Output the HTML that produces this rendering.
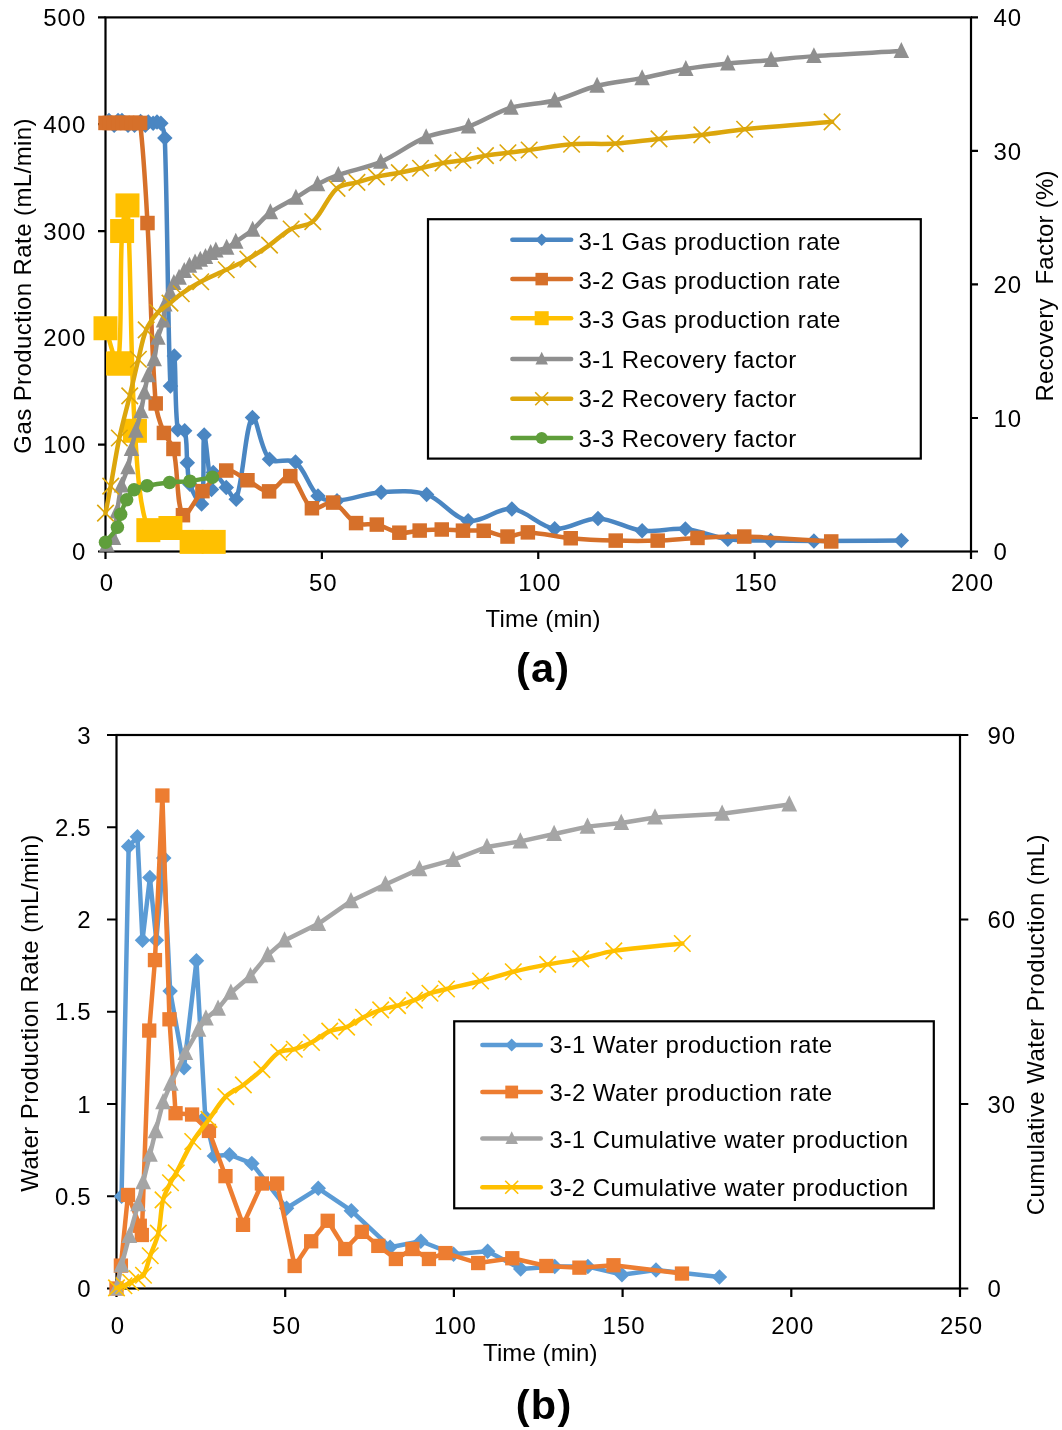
<!DOCTYPE html><html><head><meta charset="utf-8"><style>html,body{margin:0;padding:0;background:#fff;}svg{display:block;filter:blur(0.4px);}</style></head><body>
<svg width="1062" height="1430" viewBox="0 0 1062 1430" font-family="Liberation Sans, sans-serif" fill="#000">
<rect width="1062" height="1430" fill="#fff"/>
<g stroke="#000" stroke-width="2.2" fill="none">
<rect x="105.50" y="17.40" width="865.50" height="534.10"/>
<path d="M98.00,551.50H105.50M98.00,444.68H105.50M98.00,337.86H105.50M98.00,231.04H105.50M98.00,124.22H105.50M98.00,17.40H105.50M971.00,551.50H978.00M971.00,417.98H978.00M971.00,284.45H978.00M971.00,150.93H978.00M971.00,17.40H978.00M105.50,551.50V559.00M321.88,551.50V559.00M538.25,551.50V559.00M754.62,551.50V559.00M971.00,551.50V559.00"/>
</g>
<path d="M108.96,120.48 C110.69,122.08 112.54,125.29 114.16,125.29 C115.57,125.29 116.46,121.46 118.05,120.48 C119.05,119.86 120.83,119.94 121.94,120.48 C124.15,121.55 125.73,124.42 128.00,125.29 C129.91,126.02 132.50,125.88 134.49,125.29 C136.68,124.64 138.60,121.55 140.55,121.55 C142.21,121.55 143.81,125.19 145.31,125.29 C146.41,125.36 147.11,122.42 148.34,122.08 C149.71,121.71 151.52,123.15 153.10,123.15 C154.41,123.15 155.70,122.08 157.00,122.08 C158.30,122.08 160.35,122.05 160.89,123.15 C162.95,127.39 164.60,132.97 164.79,138.11 C167.77,220.55 167.58,321.18 170.41,385.93 C170.76,393.81 173.60,351.78 174.31,356.02 C176.05,366.38 174.61,406.96 177.77,429.73 C178.07,431.89 184.13,428.82 184.69,430.79 C187.30,439.86 186.25,452.18 187.29,462.84 C187.98,469.98 187.58,477.57 189.89,484.20 C192.34,491.28 200.38,508.06 201.57,503.97 C205.14,491.68 202.32,437.74 204.17,435.07 C205.64,432.93 209.22,480.05 211.52,489.54 C212.24,492.51 210.98,472.78 213.25,472.45 C215.88,472.07 221.94,482.40 226.24,487.41 C229.58,491.30 234.83,502.79 236.19,499.16 C243.55,479.51 245.21,426.19 252.42,417.55 C256.32,412.87 260.43,449.81 269.51,459.21 C274.78,464.66 289.16,457.30 295.48,462.09 C305.31,469.55 308.64,487.28 317.98,495.95 C322.49,500.14 330.62,501.03 337.02,500.65 C351.68,499.79 366.32,493.24 381.16,492.21 C396.18,491.18 412.67,489.87 426.60,494.46 C441.67,499.42 453.35,518.34 468.14,520.84 C481.77,523.15 497.72,507.61 511.85,508.88 C526.57,510.20 539.92,527.01 554.69,528.64 C568.62,530.18 583.62,518.04 597.97,518.39 C612.76,518.75 627.13,528.95 642.11,530.78 C656.26,532.51 671.15,527.67 685.38,529.07 C699.71,530.48 713.47,537.28 727.79,539.22 C741.88,541.12 756.35,540.30 770.64,540.60 C785.06,540.91 799.49,541.03 813.91,541.03 C843.05,541.03 872.19,540.75 901.33,540.60" fill="none" stroke="#4A86C2" stroke-width="4.50" stroke-linejoin="round" stroke-linecap="round"/><path d="M108.96,112.73L116.71,120.48L108.96,128.23L101.21,120.48Z" fill="#4A86C2"/><path d="M114.16,117.54L121.91,125.29L114.16,133.04L106.41,125.29Z" fill="#4A86C2"/><path d="M118.05,112.73L125.80,120.48L118.05,128.23L110.30,120.48Z" fill="#4A86C2"/><path d="M121.94,112.73L129.69,120.48L121.94,128.23L114.19,120.48Z" fill="#4A86C2"/><path d="M128.00,117.54L135.75,125.29L128.00,133.04L120.25,125.29Z" fill="#4A86C2"/><path d="M134.49,117.54L142.24,125.29L134.49,133.04L126.74,125.29Z" fill="#4A86C2"/><path d="M140.55,113.80L148.30,121.55L140.55,129.30L132.80,121.55Z" fill="#4A86C2"/><path d="M145.31,117.54L153.06,125.29L145.31,133.04L137.56,125.29Z" fill="#4A86C2"/><path d="M148.34,114.33L156.09,122.08L148.34,129.83L140.59,122.08Z" fill="#4A86C2"/><path d="M153.10,115.40L160.85,123.15L153.10,130.90L145.35,123.15Z" fill="#4A86C2"/><path d="M157.00,114.33L164.75,122.08L157.00,129.83L149.25,122.08Z" fill="#4A86C2"/><path d="M160.89,115.40L168.64,123.15L160.89,130.90L153.14,123.15Z" fill="#4A86C2"/><path d="M164.79,130.36L172.54,138.11L164.79,145.86L157.04,138.11Z" fill="#4A86C2"/><path d="M170.41,378.18L178.16,385.93L170.41,393.68L162.66,385.93Z" fill="#4A86C2"/><path d="M174.31,348.27L182.06,356.02L174.31,363.77L166.56,356.02Z" fill="#4A86C2"/><path d="M177.77,421.98L185.52,429.73L177.77,437.48L170.02,429.73Z" fill="#4A86C2"/><path d="M184.69,423.04L192.44,430.79L184.69,438.54L176.94,430.79Z" fill="#4A86C2"/><path d="M187.29,455.09L195.04,462.84L187.29,470.59L179.54,462.84Z" fill="#4A86C2"/><path d="M189.89,476.45L197.64,484.20L189.89,491.95L182.14,484.20Z" fill="#4A86C2"/><path d="M201.57,496.22L209.32,503.97L201.57,511.72L193.82,503.97Z" fill="#4A86C2"/><path d="M204.17,427.32L211.92,435.07L204.17,442.82L196.42,435.07Z" fill="#4A86C2"/><path d="M211.52,481.79L219.27,489.54L211.52,497.29L203.77,489.54Z" fill="#4A86C2"/><path d="M213.25,464.70L221.00,472.45L213.25,480.20L205.50,472.45Z" fill="#4A86C2"/><path d="M226.24,479.66L233.99,487.41L226.24,495.16L218.49,487.41Z" fill="#4A86C2"/><path d="M236.19,491.41L243.94,499.16L236.19,506.91L228.44,499.16Z" fill="#4A86C2"/><path d="M252.42,409.80L260.17,417.55L252.42,425.30L244.67,417.55Z" fill="#4A86C2"/><path d="M269.51,451.46L277.26,459.21L269.51,466.96L261.76,459.21Z" fill="#4A86C2"/><path d="M295.48,454.34L303.23,462.09L295.48,469.84L287.73,462.09Z" fill="#4A86C2"/><path d="M317.98,488.20L325.73,495.95L317.98,503.70L310.23,495.95Z" fill="#4A86C2"/><path d="M337.02,492.90L344.77,500.65L337.02,508.40L329.27,500.65Z" fill="#4A86C2"/><path d="M381.16,484.46L388.91,492.21L381.16,499.96L373.41,492.21Z" fill="#4A86C2"/><path d="M426.60,486.71L434.35,494.46L426.60,502.21L418.85,494.46Z" fill="#4A86C2"/><path d="M468.14,513.09L475.89,520.84L468.14,528.59L460.39,520.84Z" fill="#4A86C2"/><path d="M511.85,501.13L519.60,508.88L511.85,516.63L504.10,508.88Z" fill="#4A86C2"/><path d="M554.69,520.89L562.44,528.64L554.69,536.39L546.94,528.64Z" fill="#4A86C2"/><path d="M597.97,510.64L605.72,518.39L597.97,526.14L590.22,518.39Z" fill="#4A86C2"/><path d="M642.11,523.03L649.86,530.78L642.11,538.53L634.36,530.78Z" fill="#4A86C2"/><path d="M685.38,521.32L693.13,529.07L685.38,536.82L677.63,529.07Z" fill="#4A86C2"/><path d="M727.79,531.47L735.54,539.22L727.79,546.97L720.04,539.22Z" fill="#4A86C2"/><path d="M770.64,532.85L778.39,540.60L770.64,548.35L762.89,540.60Z" fill="#4A86C2"/><path d="M813.91,533.28L821.66,541.03L813.91,548.78L806.16,541.03Z" fill="#4A86C2"/><path d="M901.33,532.85L909.08,540.60L901.33,548.35L893.58,540.60Z" fill="#4A86C2"/>
<path d="M105.50,122.94 C106.94,122.94 108.39,122.94 109.83,122.94 C111.27,122.94 112.71,122.94 114.16,122.94 C115.60,122.94 117.04,122.94 118.48,122.94 C119.92,122.94 121.37,122.94 122.81,122.94 C124.25,122.94 125.70,122.94 127.14,122.94 C128.58,122.94 130.02,122.94 131.47,122.94 C132.91,122.94 134.35,122.94 135.79,122.94 C137.23,122.94 139.96,121.56 140.12,122.94 C143.85,154.92 145.62,189.63 147.48,223.03 C150.81,283.13 151.01,343.63 155.70,403.45 C156.49,413.59 160.25,423.50 163.92,432.93 C166.16,438.67 172.06,442.98 173.44,448.95 C178.41,470.39 176.35,505.56 182.96,515.18 C186.02,519.63 195.29,498.52 202.44,491.15 C209.71,483.64 217.62,472.62 226.24,470.53 C232.62,468.99 240.45,476.85 247.44,480.25 C254.73,483.79 262.20,492.03 269.08,491.36 C276.48,490.64 284.53,473.82 290.28,476.09 C298.81,479.44 302.81,502.60 311.92,508.24 C317.08,511.43 327.00,500.52 333.13,502.58 C341.71,505.46 347.37,518.71 356.06,523.09 C361.94,526.05 370.12,523.09 376.83,524.58 C384.55,526.29 391.64,531.62 399.34,532.70 C405.92,533.62 412.88,531.08 419.68,530.56 C427.02,530.01 434.39,529.48 441.75,529.50 C448.82,529.51 455.88,530.45 462.95,530.67 C469.87,530.88 476.91,529.88 483.72,530.78 C491.76,531.84 499.56,536.26 507.52,536.55 C514.27,536.79 521.03,532.19 527.86,532.38 C542.09,532.76 556.37,536.91 570.71,538.25 C585.65,539.65 600.70,540.20 615.71,540.60 C629.69,540.98 643.71,541.06 657.69,540.60 C670.97,540.17 684.22,538.56 697.50,537.93 C713.07,537.20 728.67,536.13 744.24,536.55 C773.24,537.31 802.23,539.82 831.22,541.46" fill="none" stroke="#D6702A" stroke-width="4.50" stroke-linejoin="round" stroke-linecap="round"/><rect x="98.25" y="115.69" width="14.50" height="14.50" fill="#D6702A"/><rect x="102.58" y="115.69" width="14.50" height="14.50" fill="#D6702A"/><rect x="106.91" y="115.69" width="14.50" height="14.50" fill="#D6702A"/><rect x="111.23" y="115.69" width="14.50" height="14.50" fill="#D6702A"/><rect x="115.56" y="115.69" width="14.50" height="14.50" fill="#D6702A"/><rect x="119.89" y="115.69" width="14.50" height="14.50" fill="#D6702A"/><rect x="124.22" y="115.69" width="14.50" height="14.50" fill="#D6702A"/><rect x="128.54" y="115.69" width="14.50" height="14.50" fill="#D6702A"/><rect x="132.87" y="115.69" width="14.50" height="14.50" fill="#D6702A"/><rect x="140.23" y="215.78" width="14.50" height="14.50" fill="#D6702A"/><rect x="148.45" y="396.20" width="14.50" height="14.50" fill="#D6702A"/><rect x="156.67" y="425.68" width="14.50" height="14.50" fill="#D6702A"/><rect x="166.19" y="441.70" width="14.50" height="14.50" fill="#D6702A"/><rect x="175.71" y="507.93" width="14.50" height="14.50" fill="#D6702A"/><rect x="195.19" y="483.90" width="14.50" height="14.50" fill="#D6702A"/><rect x="218.99" y="463.28" width="14.50" height="14.50" fill="#D6702A"/><rect x="240.19" y="473.00" width="14.50" height="14.50" fill="#D6702A"/><rect x="261.83" y="484.11" width="14.50" height="14.50" fill="#D6702A"/><rect x="283.03" y="468.84" width="14.50" height="14.50" fill="#D6702A"/><rect x="304.67" y="500.99" width="14.50" height="14.50" fill="#D6702A"/><rect x="325.88" y="495.33" width="14.50" height="14.50" fill="#D6702A"/><rect x="348.81" y="515.84" width="14.50" height="14.50" fill="#D6702A"/><rect x="369.58" y="517.33" width="14.50" height="14.50" fill="#D6702A"/><rect x="392.09" y="525.45" width="14.50" height="14.50" fill="#D6702A"/><rect x="412.43" y="523.31" width="14.50" height="14.50" fill="#D6702A"/><rect x="434.50" y="522.25" width="14.50" height="14.50" fill="#D6702A"/><rect x="455.70" y="523.42" width="14.50" height="14.50" fill="#D6702A"/><rect x="476.47" y="523.53" width="14.50" height="14.50" fill="#D6702A"/><rect x="500.27" y="529.30" width="14.50" height="14.50" fill="#D6702A"/><rect x="520.61" y="525.13" width="14.50" height="14.50" fill="#D6702A"/><rect x="563.46" y="531.00" width="14.50" height="14.50" fill="#D6702A"/><rect x="608.46" y="533.35" width="14.50" height="14.50" fill="#D6702A"/><rect x="650.44" y="533.35" width="14.50" height="14.50" fill="#D6702A"/><rect x="690.25" y="530.68" width="14.50" height="14.50" fill="#D6702A"/><rect x="736.99" y="529.30" width="14.50" height="14.50" fill="#D6702A"/><rect x="823.97" y="534.21" width="14.50" height="14.50" fill="#D6702A"/>
<path d="M105.50,328.25 C109.68,340.00 116.83,370.63 118.05,363.50 C122.37,338.23 119.49,275.04 122.12,231.04 C122.64,222.34 127.04,198.48 127.48,205.40 C131.31,265.05 130.11,355.87 134.93,430.79 C137.07,464.10 138.66,503.61 148.34,530.14 C150.48,536.00 163.68,526.17 170.41,528.00 C178.11,530.09 183.91,539.41 191.62,541.89 C198.33,544.04 206.33,541.89 213.69,541.89" fill="none" stroke="#FFC000" stroke-width="4.50" stroke-linejoin="round" stroke-linecap="round"/><rect x="93.50" y="316.25" width="24.00" height="24.00" fill="#FFC000"/><rect x="106.05" y="351.50" width="24.00" height="24.00" fill="#FFC000"/><rect x="110.12" y="219.04" width="24.00" height="24.00" fill="#FFC000"/><rect x="115.48" y="193.40" width="24.00" height="24.00" fill="#FFC000"/><rect x="122.93" y="418.79" width="24.00" height="24.00" fill="#FFC000"/><rect x="136.34" y="518.14" width="24.00" height="24.00" fill="#FFC000"/><rect x="158.41" y="516.00" width="24.00" height="24.00" fill="#FFC000"/><rect x="179.62" y="529.89" width="24.00" height="24.00" fill="#FFC000"/><rect x="201.69" y="529.89" width="24.00" height="24.00" fill="#FFC000"/><rect x="107.78" y="351.50" width="24.00" height="24.00" fill="#FFC000"/>
<path d="M106.80,544.82 C109.03,542.60 112.61,541.04 113.51,538.15 C116.07,529.91 115.83,520.32 117.18,511.44 C118.50,502.79 119.43,494.01 121.51,485.54 C123.04,479.32 126.32,473.56 128.00,467.38 C129.64,461.37 130.16,455.06 131.47,448.95 C132.76,442.87 134.27,436.83 135.79,430.79 C137.44,424.27 139.50,417.85 140.99,411.30 C142.39,405.12 143.22,398.82 144.45,392.61 C145.60,386.80 146.47,380.91 148.13,375.25 C149.72,369.78 152.75,364.72 154.18,359.22 C156.00,352.26 156.18,344.87 157.86,337.86 C159.28,331.96 162.26,326.42 163.49,320.50 C164.57,315.29 163.59,309.63 164.79,304.48 C165.76,300.28 168.27,296.48 169.98,292.46 C171.30,289.36 172.13,285.94 173.87,283.11 C175.16,281.04 177.45,279.65 179.07,277.77 C180.91,275.64 182.42,273.23 184.26,271.10 C185.88,269.22 187.53,267.30 189.45,265.76 C191.14,264.40 193.17,263.48 195.08,262.42 C196.78,261.47 198.54,260.64 200.27,259.75 C202.00,258.86 203.83,258.13 205.47,257.08 C207.30,255.90 208.83,254.25 210.66,253.07 C212.29,252.02 214.01,251.00 215.85,250.40 C219.35,249.26 223.33,249.32 226.67,247.86 C229.97,246.43 232.76,243.82 235.76,241.72 C241.42,237.76 247.39,234.16 252.63,229.70 C258.92,224.37 263.78,217.23 270.38,212.35 C278.21,206.55 287.47,202.67 295.91,197.66 C303.19,193.33 310.09,188.30 317.55,184.31 C324.23,180.73 331.18,177.50 338.32,174.96 C352.24,170.02 367.21,167.69 380.73,161.87 C396.49,155.10 410.30,143.56 426.17,137.17 C439.58,131.77 454.86,131.26 468.58,126.49 C483.13,121.43 496.30,112.10 510.99,107.66 C525.01,103.42 540.44,104.08 554.69,100.45 C569.14,96.78 582.66,89.45 597.10,85.76 C611.79,82.02 627.16,80.97 642.11,78.15 C656.73,75.40 671.16,71.56 685.82,69.07 C699.72,66.71 713.77,65.09 727.79,63.60 C742.18,62.07 756.65,61.25 771.07,59.99 C785.35,58.75 799.61,57.10 813.91,56.12 C843.02,54.12 872.19,52.74 901.33,51.05" fill="none" stroke="#8F8F8F" stroke-width="4.50" stroke-linejoin="round" stroke-linecap="round"/><path d="M106.80,535.83L114.55,551.80L99.05,551.80Z" fill="#8F8F8F"/><path d="M113.51,529.16L121.26,545.12L105.76,545.12Z" fill="#8F8F8F"/><path d="M117.18,502.45L124.93,518.42L109.43,518.42Z" fill="#8F8F8F"/><path d="M121.51,476.55L129.26,492.51L113.76,492.51Z" fill="#8F8F8F"/><path d="M128.00,458.39L135.75,474.35L120.25,474.35Z" fill="#8F8F8F"/><path d="M131.47,439.96L139.22,455.93L123.72,455.93Z" fill="#8F8F8F"/><path d="M135.79,421.80L143.54,437.77L128.04,437.77Z" fill="#8F8F8F"/><path d="M140.99,402.31L148.74,418.27L133.24,418.27Z" fill="#8F8F8F"/><path d="M144.45,383.62L152.20,399.58L136.70,399.58Z" fill="#8F8F8F"/><path d="M148.13,366.26L155.88,382.22L140.38,382.22Z" fill="#8F8F8F"/><path d="M154.18,350.23L161.93,366.20L146.43,366.20Z" fill="#8F8F8F"/><path d="M157.86,328.87L165.61,344.84L150.11,344.84Z" fill="#8F8F8F"/><path d="M163.49,311.51L171.24,327.48L155.74,327.48Z" fill="#8F8F8F"/><path d="M164.79,295.49L172.54,311.45L157.04,311.45Z" fill="#8F8F8F"/><path d="M169.98,283.47L177.73,299.44L162.23,299.44Z" fill="#8F8F8F"/><path d="M173.87,274.12L181.62,290.09L166.12,290.09Z" fill="#8F8F8F"/><path d="M179.07,268.78L186.82,284.75L171.32,284.75Z" fill="#8F8F8F"/><path d="M184.26,262.11L192.01,278.07L176.51,278.07Z" fill="#8F8F8F"/><path d="M189.45,256.77L197.20,272.73L181.70,272.73Z" fill="#8F8F8F"/><path d="M195.08,253.43L202.83,269.39L187.33,269.39Z" fill="#8F8F8F"/><path d="M200.27,250.76L208.02,266.72L192.52,266.72Z" fill="#8F8F8F"/><path d="M205.47,248.09L213.22,264.05L197.72,264.05Z" fill="#8F8F8F"/><path d="M210.66,244.08L218.41,260.05L202.91,260.05Z" fill="#8F8F8F"/><path d="M215.85,241.41L223.60,257.38L208.10,257.38Z" fill="#8F8F8F"/><path d="M226.67,238.87L234.42,254.84L218.92,254.84Z" fill="#8F8F8F"/><path d="M235.76,232.73L243.51,248.70L228.01,248.70Z" fill="#8F8F8F"/><path d="M252.63,220.71L260.38,236.68L244.88,236.68Z" fill="#8F8F8F"/><path d="M270.38,203.36L278.13,219.32L262.63,219.32Z" fill="#8F8F8F"/><path d="M295.91,188.67L303.66,204.63L288.16,204.63Z" fill="#8F8F8F"/><path d="M317.55,175.32L325.30,191.28L309.80,191.28Z" fill="#8F8F8F"/><path d="M338.32,165.97L346.07,181.93L330.57,181.93Z" fill="#8F8F8F"/><path d="M380.73,152.88L388.48,168.85L372.98,168.85Z" fill="#8F8F8F"/><path d="M426.17,128.18L433.92,144.15L418.42,144.15Z" fill="#8F8F8F"/><path d="M468.58,117.50L476.33,133.46L460.83,133.46Z" fill="#8F8F8F"/><path d="M510.99,98.67L518.74,114.64L503.24,114.64Z" fill="#8F8F8F"/><path d="M554.69,91.46L562.44,107.43L546.94,107.43Z" fill="#8F8F8F"/><path d="M597.10,76.77L604.85,92.74L589.35,92.74Z" fill="#8F8F8F"/><path d="M642.11,69.16L649.86,85.13L634.36,85.13Z" fill="#8F8F8F"/><path d="M685.82,60.08L693.57,76.05L678.07,76.05Z" fill="#8F8F8F"/><path d="M727.79,54.61L735.54,70.57L720.04,70.57Z" fill="#8F8F8F"/><path d="M771.07,51.00L778.82,66.97L763.32,66.97Z" fill="#8F8F8F"/><path d="M813.91,47.13L821.66,63.10L806.16,63.10Z" fill="#8F8F8F"/><path d="M901.33,42.06L909.08,58.02L893.58,58.02Z" fill="#8F8F8F"/>
<path d="M105.50,513.18 C107.23,504.14 109.03,495.12 110.69,486.07 C113.64,470.06 115.98,453.92 119.35,438.00 C122.33,423.88 126.34,409.98 129.73,395.94 C132.69,383.72 135.35,371.42 138.39,359.22 C140.83,349.40 142.33,339.07 146.18,329.85 C148.83,323.50 153.28,317.63 157.86,312.49 C161.21,308.73 166.00,306.33 169.98,303.14 C173.79,300.10 177.24,296.57 181.23,293.80 C187.48,289.45 193.99,285.37 200.70,281.78 C208.99,277.36 217.76,273.84 226.24,269.76 C233.48,266.27 240.90,263.06 247.87,259.08 C255.33,254.83 262.46,249.96 269.51,245.06 C276.88,239.94 283.35,233.25 291.15,229.04 C297.77,225.46 307.34,226.53 312.79,221.69 C322.63,212.96 327.23,197.02 337.02,188.31 C341.95,183.93 350.29,184.37 356.93,182.44 C363.41,180.55 369.83,178.34 376.40,176.83 C383.96,175.09 391.71,174.17 399.34,172.69 C406.42,171.32 413.50,169.85 420.54,168.28 C428.07,166.61 435.48,164.37 443.05,162.94 C449.61,161.70 456.36,161.41 462.95,160.27 C470.49,158.97 477.90,156.85 485.45,155.60 C492.90,154.36 500.46,153.76 507.96,152.79 C515.03,151.89 522.10,150.94 529.16,149.99 C543.30,148.09 557.37,145.31 571.57,144.25 C586.08,143.17 600.75,144.47 615.28,143.58 C629.89,142.69 644.41,140.37 658.99,138.91 C673.26,137.48 687.58,136.50 701.83,134.90 C716.14,133.30 730.35,130.73 744.67,129.29 C773.76,126.37 802.95,124.31 832.09,121.82" fill="none" stroke="#DCA60C" stroke-width="4.50" stroke-linejoin="round" stroke-linecap="round"/><path d="M97.25,504.93L113.75,521.43M97.25,521.43L113.75,504.93" stroke="#DCA60C" stroke-width="1.6" fill="none"/><path d="M102.44,477.82L118.94,494.32M102.44,494.32L118.94,477.82" stroke="#DCA60C" stroke-width="1.6" fill="none"/><path d="M111.10,429.75L127.60,446.25M111.10,446.25L127.60,429.75" stroke="#DCA60C" stroke-width="1.6" fill="none"/><path d="M121.48,387.69L137.98,404.19M121.48,404.19L137.98,387.69" stroke="#DCA60C" stroke-width="1.6" fill="none"/><path d="M130.14,350.97L146.64,367.47M130.14,367.47L146.64,350.97" stroke="#DCA60C" stroke-width="1.6" fill="none"/><path d="M137.93,321.60L154.43,338.10M137.93,338.10L154.43,321.60" stroke="#DCA60C" stroke-width="1.6" fill="none"/><path d="M149.61,304.24L166.11,320.74M149.61,320.74L166.11,304.24" stroke="#DCA60C" stroke-width="1.6" fill="none"/><path d="M161.73,294.89L178.23,311.39M161.73,311.39L178.23,294.89" stroke="#DCA60C" stroke-width="1.6" fill="none"/><path d="M172.98,285.55L189.48,302.05M172.98,302.05L189.48,285.55" stroke="#DCA60C" stroke-width="1.6" fill="none"/><path d="M192.45,273.53L208.95,290.03M192.45,290.03L208.95,273.53" stroke="#DCA60C" stroke-width="1.6" fill="none"/><path d="M217.99,261.51L234.49,278.01M217.99,278.01L234.49,261.51" stroke="#DCA60C" stroke-width="1.6" fill="none"/><path d="M239.62,250.83L256.12,267.33M239.62,267.33L256.12,250.83" stroke="#DCA60C" stroke-width="1.6" fill="none"/><path d="M261.26,236.81L277.76,253.31M261.26,253.31L277.76,236.81" stroke="#DCA60C" stroke-width="1.6" fill="none"/><path d="M282.90,220.79L299.40,237.29M282.90,237.29L299.40,220.79" stroke="#DCA60C" stroke-width="1.6" fill="none"/><path d="M304.54,213.44L321.04,229.94M304.54,229.94L321.04,213.44" stroke="#DCA60C" stroke-width="1.6" fill="none"/><path d="M328.77,180.06L345.27,196.56M328.77,196.56L345.27,180.06" stroke="#DCA60C" stroke-width="1.6" fill="none"/><path d="M348.68,174.19L365.18,190.69M348.68,190.69L365.18,174.19" stroke="#DCA60C" stroke-width="1.6" fill="none"/><path d="M368.15,168.58L384.65,185.08M368.15,185.08L384.65,168.58" stroke="#DCA60C" stroke-width="1.6" fill="none"/><path d="M391.09,164.44L407.59,180.94M391.09,180.94L407.59,164.44" stroke="#DCA60C" stroke-width="1.6" fill="none"/><path d="M412.29,160.03L428.79,176.53M412.29,176.53L428.79,160.03" stroke="#DCA60C" stroke-width="1.6" fill="none"/><path d="M434.80,154.69L451.30,171.19M434.80,171.19L451.30,154.69" stroke="#DCA60C" stroke-width="1.6" fill="none"/><path d="M454.70,152.02L471.20,168.52M454.70,168.52L471.20,152.02" stroke="#DCA60C" stroke-width="1.6" fill="none"/><path d="M477.20,147.35L493.70,163.85M477.20,163.85L493.70,147.35" stroke="#DCA60C" stroke-width="1.6" fill="none"/><path d="M499.71,144.54L516.21,161.04M499.71,161.04L516.21,144.54" stroke="#DCA60C" stroke-width="1.6" fill="none"/><path d="M520.91,141.74L537.41,158.24M520.91,158.24L537.41,141.74" stroke="#DCA60C" stroke-width="1.6" fill="none"/><path d="M563.32,136.00L579.82,152.50M563.32,152.50L579.82,136.00" stroke="#DCA60C" stroke-width="1.6" fill="none"/><path d="M607.03,135.33L623.53,151.83M607.03,151.83L623.53,135.33" stroke="#DCA60C" stroke-width="1.6" fill="none"/><path d="M650.74,130.66L667.24,147.16M650.74,147.16L667.24,130.66" stroke="#DCA60C" stroke-width="1.6" fill="none"/><path d="M693.58,126.65L710.08,143.15M693.58,143.15L710.08,126.65" stroke="#DCA60C" stroke-width="1.6" fill="none"/><path d="M736.42,121.04L752.92,137.54M736.42,137.54L752.92,121.04" stroke="#DCA60C" stroke-width="1.6" fill="none"/><path d="M823.84,113.57L840.34,130.07M823.84,130.07L840.34,113.57" stroke="#DCA60C" stroke-width="1.6" fill="none"/>
<path d="M105.50,542.15 C109.47,537.21 114.45,532.77 117.40,527.33 C119.50,523.47 119.22,518.49 120.65,514.25 C122.32,509.28 124.19,504.26 126.70,499.69 C128.67,496.12 130.84,492.01 134.06,489.81 C137.62,487.38 142.62,486.72 147.04,485.81 C154.45,484.27 162.02,483.29 169.55,482.47 C176.29,481.73 183.15,481.95 189.89,481.13 C197.43,480.22 204.89,478.55 212.39,477.26" fill="none" stroke="#5F9E3B" stroke-width="4.50" stroke-linejoin="round" stroke-linecap="round"/><circle cx="105.50" cy="542.15" r="6.75" fill="#5F9E3B"/><circle cx="117.40" cy="527.33" r="6.75" fill="#5F9E3B"/><circle cx="120.65" cy="514.25" r="6.75" fill="#5F9E3B"/><circle cx="126.70" cy="499.69" r="6.75" fill="#5F9E3B"/><circle cx="134.06" cy="489.81" r="6.75" fill="#5F9E3B"/><circle cx="147.04" cy="485.81" r="6.75" fill="#5F9E3B"/><circle cx="169.55" cy="482.47" r="6.75" fill="#5F9E3B"/><circle cx="189.89" cy="481.13" r="6.75" fill="#5F9E3B"/><circle cx="212.39" cy="477.26" r="6.75" fill="#5F9E3B"/>
<rect x="428" y="219.2" width="492.8" height="239.4" fill="#fff" stroke="#000" stroke-width="2.2"/>
<path d="M512.35,239.80H571.15" stroke="#4A86C2" stroke-width="4.5" stroke-linecap="round"/>
<path d="M541.70,233.55L547.95,239.80L541.70,246.05L535.45,239.80Z" fill="#4A86C2"/>
<path d="M512.35,279.10H571.15" stroke="#D6702A" stroke-width="4.5" stroke-linecap="round"/>
<rect x="535.45" y="272.85" width="12.50" height="12.50" fill="#D6702A"/>
<path d="M512.35,318.20H571.15" stroke="#FFC000" stroke-width="4.5" stroke-linecap="round"/>
<rect x="534.70" y="311.20" width="14.00" height="14.00" fill="#FFC000"/>
<path d="M512.35,359.00H571.15" stroke="#8F8F8F" stroke-width="4.5" stroke-linecap="round"/>
<path d="M541.70,351.75L547.95,364.62L535.45,364.62Z" fill="#8F8F8F"/>
<path d="M512.35,398.80H571.15" stroke="#DCA60C" stroke-width="4.5" stroke-linecap="round"/>
<path d="M535.20,392.30L548.20,405.30M535.20,405.30L548.20,392.30" stroke="#DCA60C" stroke-width="1.6" fill="none"/>
<path d="M512.35,437.90H571.15" stroke="#5F9E3B" stroke-width="4.5" stroke-linecap="round"/>
<circle cx="541.70" cy="437.90" r="6.00" fill="#5F9E3B"/>
<g stroke="#000" stroke-width="2.2" fill="none">
<rect x="116.50" y="735.00" width="843.50" height="553.50"/>
<path d="M107.00,1288.50H116.50M107.00,1196.25H116.50M107.00,1104.00H116.50M107.00,1011.75H116.50M107.00,919.50H116.50M107.00,827.25H116.50M107.00,735.00H116.50M960.00,1288.50H968.30M960.00,1104.00H968.30M960.00,919.50H968.30M960.00,735.00H968.30M116.50,1288.50V1297.00M285.20,1288.50V1297.00M453.90,1288.50V1297.00M622.60,1288.50V1297.00M791.30,1288.50V1297.00M960.00,1288.50V1297.00"/>
</g>
<path d="M121.56,1196.25 L128.65,846.62 L137.42,836.66 L142.48,940.16 L149.90,877.43 L156.31,940.16 L163.74,857.88 L170.15,991.09 L183.98,1067.65 L196.46,960.64 L205.24,1116.91 L214.35,1156.03 L229.53,1154.74 L251.80,1163.41 L286.55,1208.24 L318.27,1188.32 L351.33,1210.64 L390.13,1247.17 L420.83,1241.27 L453.56,1254.18 L487.64,1251.23 L520.71,1268.94 L554.78,1266.54 L587.85,1266.54 L621.93,1274.66 L656.00,1270.05 L719.43,1277.06" fill="none" stroke="#5B9BD5" stroke-width="4.50" stroke-linejoin="round" stroke-linecap="round"/><path d="M121.56,1188.50L129.31,1196.25L121.56,1204.00L113.81,1196.25Z" fill="#5B9BD5"/><path d="M128.65,838.87L136.40,846.62L128.65,854.37L120.90,846.62Z" fill="#5B9BD5"/><path d="M137.42,828.91L145.17,836.66L137.42,844.41L129.67,836.66Z" fill="#5B9BD5"/><path d="M142.48,932.41L150.23,940.16L142.48,947.91L134.73,940.16Z" fill="#5B9BD5"/><path d="M149.90,869.68L157.65,877.43L149.90,885.18L142.15,877.43Z" fill="#5B9BD5"/><path d="M156.31,932.41L164.06,940.16L156.31,947.91L148.56,940.16Z" fill="#5B9BD5"/><path d="M163.74,850.13L171.49,857.88L163.74,865.63L155.99,857.88Z" fill="#5B9BD5"/><path d="M170.15,983.34L177.90,991.09L170.15,998.84L162.40,991.09Z" fill="#5B9BD5"/><path d="M183.98,1059.90L191.73,1067.65L183.98,1075.40L176.23,1067.65Z" fill="#5B9BD5"/><path d="M196.46,952.89L204.21,960.64L196.46,968.39L188.71,960.64Z" fill="#5B9BD5"/><path d="M205.24,1109.16L212.99,1116.91L205.24,1124.66L197.49,1116.91Z" fill="#5B9BD5"/><path d="M214.35,1148.28L222.10,1156.03L214.35,1163.78L206.60,1156.03Z" fill="#5B9BD5"/><path d="M229.53,1146.99L237.28,1154.74L229.53,1162.49L221.78,1154.74Z" fill="#5B9BD5"/><path d="M251.80,1155.66L259.55,1163.41L251.80,1171.16L244.05,1163.41Z" fill="#5B9BD5"/><path d="M286.55,1200.49L294.30,1208.24L286.55,1215.99L278.80,1208.24Z" fill="#5B9BD5"/><path d="M318.27,1180.57L326.02,1188.32L318.27,1196.07L310.52,1188.32Z" fill="#5B9BD5"/><path d="M351.33,1202.89L359.08,1210.64L351.33,1218.39L343.58,1210.64Z" fill="#5B9BD5"/><path d="M390.13,1239.42L397.88,1247.17L390.13,1254.92L382.38,1247.17Z" fill="#5B9BD5"/><path d="M420.83,1233.52L428.58,1241.27L420.83,1249.02L413.08,1241.27Z" fill="#5B9BD5"/><path d="M453.56,1246.43L461.31,1254.18L453.56,1261.93L445.81,1254.18Z" fill="#5B9BD5"/><path d="M487.64,1243.48L495.39,1251.23L487.64,1258.98L479.89,1251.23Z" fill="#5B9BD5"/><path d="M520.71,1261.19L528.46,1268.94L520.71,1276.69L512.96,1268.94Z" fill="#5B9BD5"/><path d="M554.78,1258.79L562.53,1266.54L554.78,1274.29L547.03,1266.54Z" fill="#5B9BD5"/><path d="M587.85,1258.79L595.60,1266.54L587.85,1274.29L580.10,1266.54Z" fill="#5B9BD5"/><path d="M621.93,1266.91L629.68,1274.66L621.93,1282.41L614.18,1274.66Z" fill="#5B9BD5"/><path d="M656.00,1262.30L663.75,1270.05L656.00,1277.80L648.25,1270.05Z" fill="#5B9BD5"/><path d="M719.43,1269.31L727.18,1277.06L719.43,1284.81L711.68,1277.06Z" fill="#5B9BD5"/>
<path d="M116.50,1288.50 L120.89,1265.62 L127.97,1194.96 L139.78,1225.77 L141.81,1234.99 L149.23,1030.57 L154.96,960.09 L162.39,795.52 L169.47,1019.31 L175.55,1113.22 L192.08,1114.52 L208.95,1130.94 L225.48,1176.14 L243.03,1224.85 L261.92,1183.52 L277.10,1183.52 L294.65,1265.99 L311.18,1241.27 L327.71,1220.79 L345.26,1249.02 L361.79,1231.86 L378.32,1245.88 L395.87,1258.98 L412.40,1249.02 L428.93,1258.98 L445.46,1253.08 L478.19,1263.04 L512.27,1258.24 L546.35,1265.99 L579.41,1267.65 L613.49,1265.25 L681.98,1273.56" fill="none" stroke="#ED7D31" stroke-width="4.50" stroke-linejoin="round" stroke-linecap="round"/><rect x="109.35" y="1281.35" width="14.30" height="14.30" fill="#ED7D31"/><rect x="113.74" y="1258.47" width="14.30" height="14.30" fill="#ED7D31"/><rect x="120.82" y="1187.81" width="14.30" height="14.30" fill="#ED7D31"/><rect x="132.63" y="1218.62" width="14.30" height="14.30" fill="#ED7D31"/><rect x="134.66" y="1227.84" width="14.30" height="14.30" fill="#ED7D31"/><rect x="142.08" y="1023.42" width="14.30" height="14.30" fill="#ED7D31"/><rect x="147.81" y="952.94" width="14.30" height="14.30" fill="#ED7D31"/><rect x="155.24" y="788.37" width="14.30" height="14.30" fill="#ED7D31"/><rect x="162.32" y="1012.16" width="14.30" height="14.30" fill="#ED7D31"/><rect x="168.40" y="1106.07" width="14.30" height="14.30" fill="#ED7D31"/><rect x="184.93" y="1107.37" width="14.30" height="14.30" fill="#ED7D31"/><rect x="201.80" y="1123.79" width="14.30" height="14.30" fill="#ED7D31"/><rect x="218.33" y="1168.99" width="14.30" height="14.30" fill="#ED7D31"/><rect x="235.88" y="1217.70" width="14.30" height="14.30" fill="#ED7D31"/><rect x="254.77" y="1176.37" width="14.30" height="14.30" fill="#ED7D31"/><rect x="269.95" y="1176.37" width="14.30" height="14.30" fill="#ED7D31"/><rect x="287.50" y="1258.84" width="14.30" height="14.30" fill="#ED7D31"/><rect x="304.03" y="1234.12" width="14.30" height="14.30" fill="#ED7D31"/><rect x="320.56" y="1213.64" width="14.30" height="14.30" fill="#ED7D31"/><rect x="338.11" y="1241.87" width="14.30" height="14.30" fill="#ED7D31"/><rect x="354.64" y="1224.71" width="14.30" height="14.30" fill="#ED7D31"/><rect x="371.17" y="1238.73" width="14.30" height="14.30" fill="#ED7D31"/><rect x="388.72" y="1251.83" width="14.30" height="14.30" fill="#ED7D31"/><rect x="405.25" y="1241.87" width="14.30" height="14.30" fill="#ED7D31"/><rect x="421.78" y="1251.83" width="14.30" height="14.30" fill="#ED7D31"/><rect x="438.31" y="1245.93" width="14.30" height="14.30" fill="#ED7D31"/><rect x="471.04" y="1255.89" width="14.30" height="14.30" fill="#ED7D31"/><rect x="505.12" y="1251.09" width="14.30" height="14.30" fill="#ED7D31"/><rect x="539.20" y="1258.84" width="14.30" height="14.30" fill="#ED7D31"/><rect x="572.26" y="1260.50" width="14.30" height="14.30" fill="#ED7D31"/><rect x="606.34" y="1258.10" width="14.30" height="14.30" fill="#ED7D31"/><rect x="674.83" y="1266.41" width="14.30" height="14.30" fill="#ED7D31"/>
<path d="M116.50,1288.50 L121.56,1265.13 L129.32,1235.92 L138.09,1204.24 L143.15,1182.11 L149.90,1154.74 L155.64,1131.06 L163.06,1102.15 L170.82,1083.70 L185.33,1052.95 L198.49,1029.59 L205.91,1018.52 L218.06,1008.67 L230.88,992.68 L250.45,976.08 L267.66,955.17 L284.53,940.41 L318.27,923.81 L350.99,901.05 L385.41,884.44 L419.49,869.07 L453.23,859.85 L486.97,846.93 L520.37,841.39 L554.11,834.01 L587.51,826.63 L621.25,822.94 L654.99,817.41 L722.13,813.72 L789.28,804.49" fill="none" stroke="#A5A5A5" stroke-width="4.50" stroke-linejoin="round" stroke-linecap="round"/><path d="M116.50,1279.34L124.40,1295.61L108.60,1295.61Z" fill="#A5A5A5"/><path d="M121.56,1255.97L129.46,1272.24L113.66,1272.24Z" fill="#A5A5A5"/><path d="M129.32,1226.75L137.22,1243.03L121.42,1243.03Z" fill="#A5A5A5"/><path d="M138.09,1195.08L145.99,1211.35L130.19,1211.35Z" fill="#A5A5A5"/><path d="M143.15,1172.94L151.05,1189.21L135.25,1189.21Z" fill="#A5A5A5"/><path d="M149.90,1145.57L157.80,1161.85L142.00,1161.85Z" fill="#A5A5A5"/><path d="M155.64,1121.90L163.54,1138.17L147.74,1138.17Z" fill="#A5A5A5"/><path d="M163.06,1092.99L170.96,1109.26L155.16,1109.26Z" fill="#A5A5A5"/><path d="M170.82,1074.54L178.72,1090.81L162.92,1090.81Z" fill="#A5A5A5"/><path d="M185.33,1043.79L193.23,1060.06L177.43,1060.06Z" fill="#A5A5A5"/><path d="M198.49,1020.42L206.39,1036.69L190.59,1036.69Z" fill="#A5A5A5"/><path d="M205.91,1009.35L213.81,1025.62L198.01,1025.62Z" fill="#A5A5A5"/><path d="M218.06,999.51L225.96,1015.78L210.16,1015.78Z" fill="#A5A5A5"/><path d="M230.88,983.52L238.78,999.79L222.98,999.79Z" fill="#A5A5A5"/><path d="M250.45,966.92L258.35,983.19L242.55,983.19Z" fill="#A5A5A5"/><path d="M267.66,946.01L275.56,962.28L259.76,962.28Z" fill="#A5A5A5"/><path d="M284.53,931.25L292.43,947.52L276.63,947.52Z" fill="#A5A5A5"/><path d="M318.27,914.64L326.17,930.92L310.37,930.92Z" fill="#A5A5A5"/><path d="M350.99,891.89L358.89,908.16L343.09,908.16Z" fill="#A5A5A5"/><path d="M385.41,875.28L393.31,891.55L377.51,891.55Z" fill="#A5A5A5"/><path d="M419.49,859.91L427.39,876.18L411.59,876.18Z" fill="#A5A5A5"/><path d="M453.23,850.68L461.13,866.96L445.33,866.96Z" fill="#A5A5A5"/><path d="M486.97,837.77L494.87,854.04L479.07,854.04Z" fill="#A5A5A5"/><path d="M520.37,832.23L528.27,848.50L512.47,848.50Z" fill="#A5A5A5"/><path d="M554.11,824.85L562.01,841.12L546.21,841.12Z" fill="#A5A5A5"/><path d="M587.51,817.47L595.41,833.75L579.61,833.75Z" fill="#A5A5A5"/><path d="M621.25,813.78L629.15,830.05L613.35,830.05Z" fill="#A5A5A5"/><path d="M654.99,808.25L662.89,824.52L647.09,824.52Z" fill="#A5A5A5"/><path d="M722.13,804.56L730.03,820.83L714.23,820.83Z" fill="#A5A5A5"/><path d="M789.28,795.33L797.18,811.60L781.38,811.60Z" fill="#A5A5A5"/>
<path d="M116.50,1287.88 C118.97,1287.17 121.53,1286.67 123.92,1285.73 C126.26,1284.82 128.46,1283.54 130.67,1282.35 C132.84,1281.18 134.92,1279.85 137.08,1278.66 C139.20,1277.49 142.35,1277.26 143.49,1275.28 C146.74,1269.62 147.95,1262.22 150.24,1255.72 C152.90,1248.18 156.56,1240.90 158.34,1233.15 C160.83,1222.31 160.46,1210.72 163.06,1199.94 C164.51,1193.91 167.76,1188.33 170.48,1182.72 C172.14,1179.31 174.42,1176.22 176.22,1172.88 C181.84,1162.49 186.60,1151.57 192.75,1141.52 C197.51,1133.74 203.53,1126.74 208.95,1119.38 C214.55,1111.77 219.24,1103.20 225.82,1096.62 C230.71,1091.72 237.75,1089.14 243.36,1084.93 C249.78,1080.12 256.02,1074.99 261.92,1069.56 C267.82,1064.13 272.27,1056.42 278.79,1052.34 C283.07,1049.66 289.28,1050.78 294.31,1049.27 C300.19,1047.50 306.06,1045.30 311.52,1042.50 C317.86,1039.25 323.26,1033.96 329.74,1031.12 C334.96,1028.83 341.32,1029.29 346.61,1027.12 C352.56,1024.68 357.68,1020.22 363.48,1017.28 C369.04,1014.48 374.80,1011.92 380.68,1009.90 C386.16,1008.03 391.99,1007.22 397.55,1005.60 C403.23,1003.94 408.90,1002.16 414.42,1000.07 C419.69,998.06 424.63,995.14 429.94,993.30 C435.31,991.45 440.94,990.34 446.48,989.00 C457.81,986.24 469.26,983.91 480.55,981.00 C491.53,978.17 502.29,974.49 513.28,971.77 C524.66,968.96 536.18,966.60 547.70,964.39 C558.67,962.30 569.82,961.10 580.76,958.86 C591.86,956.59 602.64,952.56 613.83,950.87 C636.49,947.43 659.49,945.94 682.32,943.48" fill="none" stroke="#FFC000" stroke-width="4.50" stroke-linejoin="round" stroke-linecap="round"/><path d="M108.25,1279.63L124.75,1296.13M108.25,1296.13L124.75,1279.63" stroke="#FFC000" stroke-width="1.6" fill="none"/><path d="M115.67,1277.48L132.17,1293.98M115.67,1293.98L132.17,1277.48" stroke="#FFC000" stroke-width="1.6" fill="none"/><path d="M122.42,1274.10L138.92,1290.60M122.42,1290.60L138.92,1274.10" stroke="#FFC000" stroke-width="1.6" fill="none"/><path d="M128.83,1270.41L145.33,1286.91M128.83,1286.91L145.33,1270.41" stroke="#FFC000" stroke-width="1.6" fill="none"/><path d="M135.24,1267.03L151.74,1283.53M135.24,1283.53L151.74,1267.03" stroke="#FFC000" stroke-width="1.6" fill="none"/><path d="M141.99,1247.47L158.49,1263.97M141.99,1263.97L158.49,1247.47" stroke="#FFC000" stroke-width="1.6" fill="none"/><path d="M150.09,1224.90L166.59,1241.40M150.09,1241.40L166.59,1224.90" stroke="#FFC000" stroke-width="1.6" fill="none"/><path d="M154.81,1191.69L171.31,1208.19M154.81,1208.19L171.31,1191.69" stroke="#FFC000" stroke-width="1.6" fill="none"/><path d="M162.23,1174.47L178.73,1190.97M162.23,1190.97L178.73,1174.47" stroke="#FFC000" stroke-width="1.6" fill="none"/><path d="M167.97,1164.63L184.47,1181.13M167.97,1181.13L184.47,1164.63" stroke="#FFC000" stroke-width="1.6" fill="none"/><path d="M184.50,1133.27L201.00,1149.77M184.50,1149.77L201.00,1133.27" stroke="#FFC000" stroke-width="1.6" fill="none"/><path d="M200.70,1111.12L217.20,1127.62M200.70,1127.62L217.20,1111.12" stroke="#FFC000" stroke-width="1.6" fill="none"/><path d="M217.57,1088.37L234.07,1104.87M217.57,1104.87L234.07,1088.37" stroke="#FFC000" stroke-width="1.6" fill="none"/><path d="M235.11,1076.68L251.61,1093.18M235.11,1093.18L251.61,1076.68" stroke="#FFC000" stroke-width="1.6" fill="none"/><path d="M253.67,1061.31L270.17,1077.81M253.67,1077.81L270.17,1061.31" stroke="#FFC000" stroke-width="1.6" fill="none"/><path d="M270.54,1044.09L287.04,1060.59M270.54,1060.59L287.04,1044.09" stroke="#FFC000" stroke-width="1.6" fill="none"/><path d="M286.06,1041.02L302.56,1057.52M286.06,1057.52L302.56,1041.02" stroke="#FFC000" stroke-width="1.6" fill="none"/><path d="M303.27,1034.25L319.77,1050.75M303.27,1050.75L319.77,1034.25" stroke="#FFC000" stroke-width="1.6" fill="none"/><path d="M321.49,1022.87L337.99,1039.37M321.49,1039.37L337.99,1022.87" stroke="#FFC000" stroke-width="1.6" fill="none"/><path d="M338.36,1018.88L354.86,1035.38M338.36,1035.38L354.86,1018.88" stroke="#FFC000" stroke-width="1.6" fill="none"/><path d="M355.23,1009.03L371.73,1025.53M355.23,1025.53L371.73,1009.03" stroke="#FFC000" stroke-width="1.6" fill="none"/><path d="M372.43,1001.65L388.93,1018.15M372.43,1018.15L388.93,1001.65" stroke="#FFC000" stroke-width="1.6" fill="none"/><path d="M389.30,997.35L405.80,1013.85M389.30,1013.85L405.80,997.35" stroke="#FFC000" stroke-width="1.6" fill="none"/><path d="M406.17,991.82L422.67,1008.32M406.17,1008.32L422.67,991.82" stroke="#FFC000" stroke-width="1.6" fill="none"/><path d="M421.69,985.05L438.19,1001.55M421.69,1001.55L438.19,985.05" stroke="#FFC000" stroke-width="1.6" fill="none"/><path d="M438.23,980.75L454.73,997.25M438.23,997.25L454.73,980.75" stroke="#FFC000" stroke-width="1.6" fill="none"/><path d="M472.30,972.75L488.80,989.25M472.30,989.25L488.80,972.75" stroke="#FFC000" stroke-width="1.6" fill="none"/><path d="M505.03,963.52L521.53,980.02M505.03,980.02L521.53,963.52" stroke="#FFC000" stroke-width="1.6" fill="none"/><path d="M539.45,956.14L555.95,972.64M539.45,972.64L555.95,956.14" stroke="#FFC000" stroke-width="1.6" fill="none"/><path d="M572.51,950.61L589.01,967.11M572.51,967.11L589.01,950.61" stroke="#FFC000" stroke-width="1.6" fill="none"/><path d="M605.58,942.62L622.08,959.12M605.58,959.12L622.08,942.62" stroke="#FFC000" stroke-width="1.6" fill="none"/><path d="M674.07,935.23L690.57,951.73M674.07,951.73L690.57,935.23" stroke="#FFC000" stroke-width="1.6" fill="none"/>
<rect x="454.2" y="1021.3" width="479.6" height="187.0" fill="#fff" stroke="#000" stroke-width="2.2"/>
<path d="M482.35,1045.10H540.75" stroke="#5B9BD5" stroke-width="4.5" stroke-linecap="round"/>
<path d="M511.70,1038.60L518.20,1045.10L511.70,1051.60L505.20,1045.10Z" fill="#5B9BD5"/>
<path d="M482.35,1092.00H540.75" stroke="#ED7D31" stroke-width="4.5" stroke-linecap="round"/>
<rect x="505.30" y="1085.60" width="12.80" height="12.80" fill="#ED7D31"/>
<path d="M482.35,1138.50H540.75" stroke="#A5A5A5" stroke-width="4.5" stroke-linecap="round"/>
<path d="M511.70,1131.25L517.95,1144.12L505.45,1144.12Z" fill="#A5A5A5"/>
<path d="M482.35,1187.20H540.75" stroke="#FFC000" stroke-width="4.5" stroke-linecap="round"/>
<path d="M505.20,1180.70L518.20,1193.70M505.20,1193.70L518.20,1180.70" stroke="#FFC000" stroke-width="1.6" fill="none"/>
<text x="85.30" y="560.10" font-size="24.0" text-anchor="end">0</text>
<text x="85.30" y="453.28" font-size="24.0" text-anchor="end" textLength="42.0" lengthAdjust="spacing">100</text>
<text x="85.30" y="346.46" font-size="24.0" text-anchor="end" textLength="42.0" lengthAdjust="spacing">200</text>
<text x="85.30" y="239.64" font-size="24.0" text-anchor="end" textLength="42.0" lengthAdjust="spacing">300</text>
<text x="85.30" y="132.82" font-size="24.0" text-anchor="end" textLength="42.0" lengthAdjust="spacing">400</text>
<text x="85.30" y="26.00" font-size="24.0" text-anchor="end" textLength="42.0" lengthAdjust="spacing">500</text>
<text x="993.50" y="560.10" font-size="24.0" text-anchor="start">0</text>
<text x="993.50" y="426.58" font-size="24.0" text-anchor="start" textLength="27.7" lengthAdjust="spacing">10</text>
<text x="993.50" y="293.05" font-size="24.0" text-anchor="start" textLength="27.7" lengthAdjust="spacing">20</text>
<text x="993.50" y="159.53" font-size="24.0" text-anchor="start" textLength="27.7" lengthAdjust="spacing">30</text>
<text x="993.50" y="26.00" font-size="24.0" text-anchor="start" textLength="27.7" lengthAdjust="spacing">40</text>
<text x="106.50" y="591.20" font-size="24.0" text-anchor="middle">0</text>
<text x="322.88" y="591.20" font-size="24.0" text-anchor="middle" textLength="27.7" lengthAdjust="spacing">50</text>
<text x="539.25" y="591.20" font-size="24.0" text-anchor="middle" textLength="42.0" lengthAdjust="spacing">100</text>
<text x="755.62" y="591.20" font-size="24.0" text-anchor="middle" textLength="42.0" lengthAdjust="spacing">150</text>
<text x="972.00" y="591.20" font-size="24.0" text-anchor="middle" textLength="42.0" lengthAdjust="spacing">200</text>
<text x="543.00" y="627.00" font-size="24.0" text-anchor="middle" textLength="115.0" lengthAdjust="spacing">Time (min)</text>
<text x="542.50" y="682.20" font-size="41.5" text-anchor="middle" textLength="53.0" lengthAdjust="spacing" font-weight="bold">(a)</text>
<text x="31.00" y="286.05" font-size="24.0" text-anchor="middle" textLength="335.3" lengthAdjust="spacing" transform="rotate(-90 31.00 286.05)">Gas Production Rate (mL/min)</text>
<text x="1052.50" y="286.00" font-size="24.0" text-anchor="middle" textLength="231.1" lengthAdjust="spacing" transform="rotate(-90 1052.50 286.00)" style="white-space:pre">Recovery  Factor (%)</text>
<text x="578.40" y="249.70" font-size="24.0" text-anchor="start" textLength="262.0" lengthAdjust="spacing">3-1 Gas production rate</text>
<text x="578.40" y="288.80" font-size="24.0" text-anchor="start" textLength="262.0" lengthAdjust="spacing">3-2 Gas production rate</text>
<text x="578.40" y="328.20" font-size="24.0" text-anchor="start" textLength="262.0" lengthAdjust="spacing">3-3 Gas production rate</text>
<text x="578.40" y="367.70" font-size="24.0" text-anchor="start" textLength="217.9" lengthAdjust="spacing">3-1 Recovery factor</text>
<text x="578.40" y="407.10" font-size="24.0" text-anchor="start" textLength="217.9" lengthAdjust="spacing">3-2 Recovery factor</text>
<text x="578.40" y="446.50" font-size="24.0" text-anchor="start" textLength="217.9" lengthAdjust="spacing">3-3 Recovery factor</text>
<text x="90.50" y="1297.10" font-size="24.0" text-anchor="end">0</text>
<text x="90.50" y="1204.85" font-size="24.0" text-anchor="end" textLength="35.4" lengthAdjust="spacing">0.5</text>
<text x="90.50" y="1112.60" font-size="24.0" text-anchor="end">1</text>
<text x="90.50" y="1020.35" font-size="24.0" text-anchor="end" textLength="35.4" lengthAdjust="spacing">1.5</text>
<text x="90.50" y="928.10" font-size="24.0" text-anchor="end">2</text>
<text x="90.50" y="835.85" font-size="24.0" text-anchor="end" textLength="35.4" lengthAdjust="spacing">2.5</text>
<text x="90.50" y="743.60" font-size="24.0" text-anchor="end">3</text>
<text x="987.50" y="1297.10" font-size="24.0" text-anchor="start">0</text>
<text x="987.50" y="1112.60" font-size="24.0" text-anchor="start" textLength="27.7" lengthAdjust="spacing">30</text>
<text x="987.50" y="928.10" font-size="24.0" text-anchor="start" textLength="27.7" lengthAdjust="spacing">60</text>
<text x="987.50" y="743.60" font-size="24.0" text-anchor="start" textLength="27.7" lengthAdjust="spacing">90</text>
<text x="117.50" y="1334.00" font-size="24.0" text-anchor="middle">0</text>
<text x="286.20" y="1334.00" font-size="24.0" text-anchor="middle" textLength="27.7" lengthAdjust="spacing">50</text>
<text x="454.90" y="1334.00" font-size="24.0" text-anchor="middle" textLength="42.0" lengthAdjust="spacing">100</text>
<text x="623.60" y="1334.00" font-size="24.0" text-anchor="middle" textLength="42.0" lengthAdjust="spacing">150</text>
<text x="792.30" y="1334.00" font-size="24.0" text-anchor="middle" textLength="42.0" lengthAdjust="spacing">200</text>
<text x="961.00" y="1334.00" font-size="24.0" text-anchor="middle" textLength="42.0" lengthAdjust="spacing">250</text>
<text x="540.30" y="1360.50" font-size="24.0" text-anchor="middle" textLength="114.5" lengthAdjust="spacing">Time (min)</text>
<text x="543.50" y="1418.60" font-size="41.5" text-anchor="middle" textLength="55.5" lengthAdjust="spacing" font-weight="bold">(b)</text>
<text x="38.00" y="1013.30" font-size="24.0" text-anchor="middle" textLength="357.0" lengthAdjust="spacing" transform="rotate(-90 38.00 1013.30)">Water Production Rate (mL/min)</text>
<text x="1044.50" y="1024.95" font-size="24.0" text-anchor="middle" textLength="380.7" lengthAdjust="spacing" transform="rotate(-90 1044.50 1024.95)">Cumulative Water Production (mL)</text>
<text x="549.60" y="1053.30" font-size="24.0" text-anchor="start" textLength="282.6" lengthAdjust="spacing">3-1 Water production rate</text>
<text x="549.60" y="1100.80" font-size="24.0" text-anchor="start" textLength="282.6" lengthAdjust="spacing">3-2 Water production rate</text>
<text x="549.60" y="1148.30" font-size="24.0" text-anchor="start" textLength="358.6" lengthAdjust="spacing">3-1 Cumulative water production</text>
<text x="549.60" y="1195.70" font-size="24.0" text-anchor="start" textLength="358.6" lengthAdjust="spacing">3-2 Cumulative water production</text>
</svg></body></html>
